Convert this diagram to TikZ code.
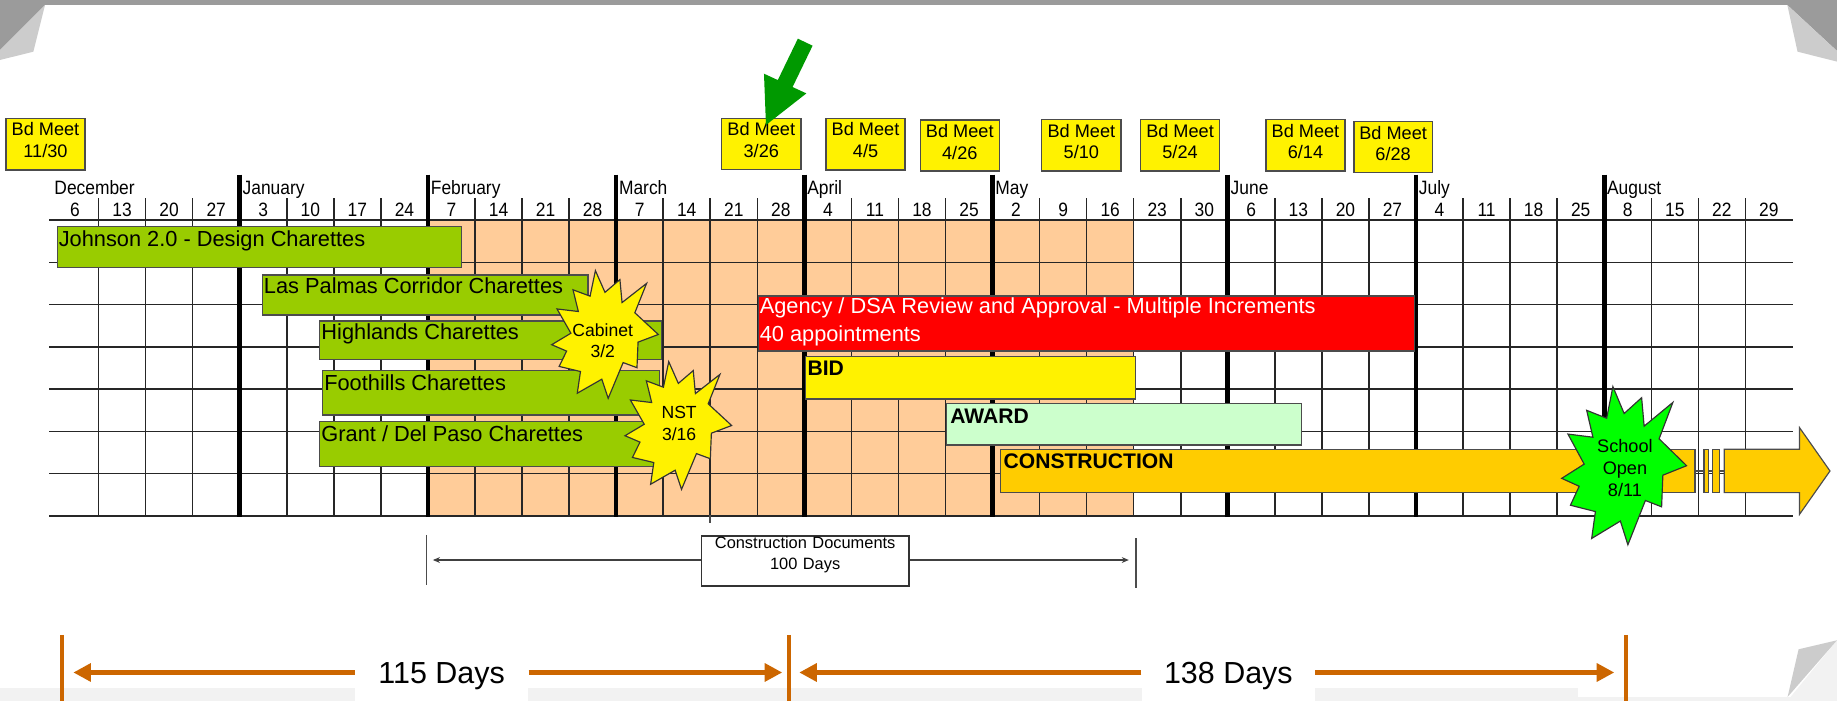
\documentclass[tikz,border=0pt]{standalone}
\usepackage{fontspec}
\setmainfont{Liberation Sans}
\newfontfamily\narrowfont[FakeStretch=0.9]{Liberation Sans}
\usetikzlibrary{arrows.meta,fit}

\definecolor{peach}{HTML}{FFCC99}
\definecolor{barGreen}{HTML}{99CC00}
\definecolor{awardGreen}{HTML}{CCFFCC}
\definecolor{constOrange}{HTML}{FFCC00}
\definecolor{dimOrange}{HTML}{CC6600}
\definecolor{arrowGreen}{HTML}{009900}
\definecolor{schoolGreen}{HTML}{00FF00}
\definecolor{cornerDark}{HTML}{9B9B9B}
\definecolor{cornerLight}{HTML}{CCCCCC}
\definecolor{stripGrey}{HTML}{F2F2F2}

\tikzset{
  burst/.pic={\path[pic actions] (0.41,0) -- (0.50,0.17) -- (0.64,0.07) -- (0.66,0.25) -- (0.89,0.10) -- (0.78,0.33) -- (1.00,0.50) -- (0.81,0.56) -- (0.80,0.76) -- (0.67,0.72) -- (0.53,1.00) -- (0.47,0.85) -- (0.24,0.96) -- (0.27,0.79) -- (0.07,0.75) -- (0.14,0.63) -- (0.00,0.58) -- (0.18,0.49) -- (0.05,0.30) -- (0.25,0.32) -- (0.20,0.15) -- (0.36,0.20) -- cycle;}
}

\newcommand{\mkbdbox}[6]{%
  \node[bdbox, fit={(#2,#3) (#4,#5)}] (bd#1) {};
  \node[bdtext] (bdt#1) at ([shift={(0,19.25)}]bd#1.north) {Bd Meet\\#6};}
\newcommand{\mkbar}[6]{%
  \node[bar, fill=#6, fit={(#2,#3) (#4,#5)}] (#1) {};}

\begin{document}
\begin{tikzpicture}[x=1pt,y=-1pt,
  gridthin/.style={line width=1.3pt, draw=black!85},
  gridthick/.style={line width=4pt, draw=black},
  daylbl/.style={font=\narrowfont\fontsize{16.5}{18}\selectfont, inner sep=0pt, anchor=base},
  monlbl/.style={font=\narrowfont\fontsize{16.5}{18}\selectfont, inner sep=0pt, anchor=base west},
  bdbox/.style={draw=black!70, line width=1.3pt, fill=yellow, inner sep=0pt},
  bdtext/.style={font=\fontsize{15.5}{18.4}\selectfont, align=center, inner sep=0pt},
  bar/.style={draw=black!70, line width=1pt, inner sep=0pt},
  barlbl/.style={font=\fontsize{18.6}{22}\selectfont, inner sep=0pt, anchor=base west},
  boldlbl/.style={font=\bfseries\fontsize{18}{20}\selectfont, inner sep=0pt, anchor=base west},
  starsty/.style={draw=black!80, line width=1pt, line join=miter},
  startxt/.style={font=\fontsize{15}{18}\selectfont, align=center, inner sep=0pt},
  cdline/.style={line width=1.1pt, draw=black!70},
  cdarrow/.style={line width=1.1pt, draw=black!75, -{Stealth[length=6pt,width=5pt]}},
  dimbar/.style={line width=3.5pt, draw=dimOrange},
  dimarrow/.style={line width=5pt, draw=dimOrange, -{Triangle[length=15pt,width=15pt]}},
  daysbox/.style={fill=white, minimum width=148pt, minimum height=46pt, inner sep=0pt, font=\fontsize{26}{30}\selectfont}
]
\useasboundingbox (0,0) rectangle (1568,598);

% page decorations
\fill[cornerDark] (0,0) rectangle (1568,4.3);
\fill[cornerDark] (0,0) -- (38.4,4.3) -- (0,42.7) -- cycle;
\fill[cornerLight] (38.4,4.3) -- (28.5,44.1) -- (0,51.2) -- (0,42.7) -- cycle;
\fill[cornerDark] (1568,0) -- (1525.6,4.3) -- (1568,43.5) -- cycle;
\fill[cornerLight] (1525.6,4.3) -- (1534.3,44.1) -- (1568,52.6) -- (1568,43.5) -- cycle;
\fill[stripGrey] (0,587) rectangle (1347,598);
\fill[stripGrey] (1347,594.9) rectangle (1568,598);
\fill[stripGrey] (1568,546.5) -- (1568,598) -- (1525.8,598) -- cycle;
\fill[cornerLight] (1535.2,554.2) -- (1568,546.5) -- (1525.8,594.9) -- cycle;

% shaded period
\fill[peach] (365.3,187.8) rectangle (967.7,440.3);

% grid
\foreach \yy in {187.8,223.9,259.9,296.0,332.1,368.2,404.2,440.3}
  \draw[gridthin] (42,\yy) -- (1530,\yy);
\foreach \i in {1,2,3,5,6,7,9,10,11,13,14,15,17,18,19,21,22,23,24,26,27,28,30,31,32,34,35,36} {
  \pgfmathsetmacro\xx{44+40.16*\i}
  \draw[gridthin] (\xx,169) -- (\xx,440.3);
}
\foreach \i in {4,8,12,16,20,25,29,33} {
  \pgfmathsetmacro\xx{44+40.16*\i}
  \draw[gridthick] (\xx,149) -- (\xx,441);
}
\foreach \d [count=\i from 0] in {6,13,20,27,3,10,17,24,7,14,21,28,7,14,21,28,4,11,18,25,2,9,16,23,30,6,13,20,27,4,11,18,25,8,15,22,29} {
  \pgfmathsetmacro\xx{44+40.16*(\i+0.5)}
  \node[daylbl] (day\i) at (\xx,185) {\d};
}
\foreach \i/\m in {0/December,4/January,8/February,12/March,16/April,20/May,25/June,29/July,33/August} {
  \pgfmathsetmacro\xx{44+40.16*\i+2.3}
  \node[monlbl] (mon\i) at (\xx,165.6) {\m};
}

% board meetings
\mkbdbox{1}{5}{101}{72.6}{145}{11/30}
\mkbdbox{2}{616}{101}{683.6}{144.6}{3/26}
\mkbdbox{3}{705}{101}{772.6}{145}{4/5}
\mkbdbox{4}{785.5}{102.4}{853}{146}{4/26}
\mkbdbox{5}{889}{102}{957}{146}{5/10}
\mkbdbox{6}{973.5}{102}{1041}{146}{5/24}
\mkbdbox{7}{1080.6}{102}{1148}{146}{6/14}
\mkbdbox{8}{1155.5}{103.9}{1222.7}{147.4}{6/28}

% green pointer arrow
\fill[arrowGreen] (681.0,33.0) -- (693.6,39.0) -- (676.5,74.3) -- (688.3,79.7) -- (653.8,106.7) -- (652.1,62.9) -- (663.9,68.35) -- cycle;

% bars
\mkbar{johnson}{49}{193.5}{394.2}{228.5}{barGreen}
\node[barlbl] (johnsonL) at ([shift={(1.5,17)}]johnson.north west) {Johnson 2.0 - Design Charettes};
\mkbar{laspalmas}{223.8}{234.7}{501.9}{268.9}{barGreen}
\node[barlbl] (laspalmasL) at ([shift={(1.8,16.3)}]laspalmas.north west) {Las Palmas Corridor Charettes};
\mkbar{highlands}{272.7}{274}{564.4}{306.7}{barGreen}
\node[barlbl] (highlandsL) at ([shift={(2,16.2)}]highlands.north west) {Highlands Charettes};
\mkbar{foothills}{275.1}{316.4}{562.8}{354.2}{barGreen}
\node[barlbl] (foothillsL) at ([shift={(2,17.1)}]foothills.north west) {Foothills Charettes};
\mkbar{grant}{272.7}{359.9}{560}{398.3}{barGreen}
\node[barlbl] (grantL) at ([shift={(2,17.1)}]grant.north west) {Grant / Del Paso Charettes};

\mkbar{agency}{647.1}{252.6}{1207.4}{299.6}{red}
\node[barlbl, text=white] (agencyL1) at ([shift={(1.7,15.4)}]agency.north west) {Agency / DSA Review and Approval - Multiple Increments};
\node[barlbl, text=white] (agencyL2) at ([shift={(1.7,39)}]agency.north west) {40 appointments};

\mkbar{bid}{687.6}{304.4}{969.4}{340.5}{yellow}
\node[boldlbl] (bidL) at ([shift={(2,16.6)}]bid.north west) {BID};
\mkbar{award}{808.1}{344.3}{1111}{379.8}{awardGreen}
\node[boldlbl] (awardL) at ([shift={(3.4,17.6)}]award.north west) {AWARD};

\mkbar{constr}{854}{383.5}{1446.8}{420.5}{constOrange}
\node[boldlbl] (constrL) at ([shift={(3,16.8)}]constr.north west) {CONSTRUCTION};
\coordinate (brkEnd) at (1471.8,402);
\draw[line width=1pt, draw=black!70] (constr.east) -- (brkEnd);
\mkbar{brkA}{1454.5}{383.5}{1458}{420.5}{constOrange}
\mkbar{brkB}{1462}{383.5}{1467.6}{420.5}{constOrange}
\filldraw[fill=constOrange, draw=black!70, line width=1pt] (1471.8,383.5) -- (1536,383.5) -- (1536,365) -- (1562,402) -- (1536,439) -- (1536,420.5) -- (1471.8,420.5) -- cycle;

% starbursts
\pic[starsty, fill=yellow, xscale=91, yscale=109] at (470.9,231) {burst};
\node[startxt] (cabinetT) at (514.5,290.5) {Cabinet\\3/2};
\pic[starsty, fill=yellow, xscale=91, yscale=109] at (533.5,308.7) {burst};
\node[startxt] (nstT) at (579.7,361.4) {NST\\3/16};
\pic[starsty, fill=schoolGreen, xscale=106.6, yscale=135] at (1333,330) {burst};
\node[startxt, font=\fontsize{15.5}{18.8}\selectfont] (schoolT) at (1387,399.5) {School\\Open\\8/11};

% construction documents span
\coordinate (stubT) at (606,439.6);
\coordinate (stubB) at (606,446);
\draw[cdline] (stubT) -- (stubB);
\coordinate (cdLt) at (364.1,456.6);
\coordinate (cdLb) at (364.1,499.3);
\coordinate (cdRt) at (969.6,459.5);
\coordinate (cdRb) at (969.6,502);
\draw[cdline] (cdLt) -- (cdLb);
\draw[cdline] (cdRt) -- (cdRb);
\node[bar, draw=black!80, fill=white, fit={(598.6,457.5) (775.9,500.2)}, align=center, font=\fontsize{14}{17.7}\selectfont] (cdbox) {Construction Documents\\100 Days};
\coordinate (cdL) at (369.5,478);
\coordinate (cdR) at (963.5,478);
\draw[cdarrow] (cdbox.west |- cdL) -- (cdL);
\draw[cdarrow] (cdbox.east |- cdR) -- (cdR);

% day-count spans
\coordinate (o1t) at (53,542);
\coordinate (o1b) at (53,598);
\coordinate (o2t) at (673.7,542);
\coordinate (o2b) at (673.7,598);
\coordinate (o3t) at (1388,542);
\coordinate (o3b) at (1388,598);
\draw[dimbar] (o1t) -- (o1b);
\draw[dimbar] (o2t) -- (o2b);
\draw[dimbar] (o3t) -- (o3b);
\node[daysbox] (days115) at (377,577.3) {115 Days};
\node[daysbox] (days138) at (1048.5,577.3) {138 Days};
\coordinate (a1) at (62.6,574);
\coordinate (a2) at (667.7,574);
\coordinate (a3) at (682.2,574);
\coordinate (a4) at (1377.9,574);
\draw[dimarrow] (days115.west |- a1) -- (a1);
\draw[dimarrow] (days115.east |- a2) -- (a2);
\draw[dimarrow] (days138.west |- a3) -- (a3);
\draw[dimarrow] (days138.east |- a4) -- (a4);
\end{tikzpicture}
\end{document}
